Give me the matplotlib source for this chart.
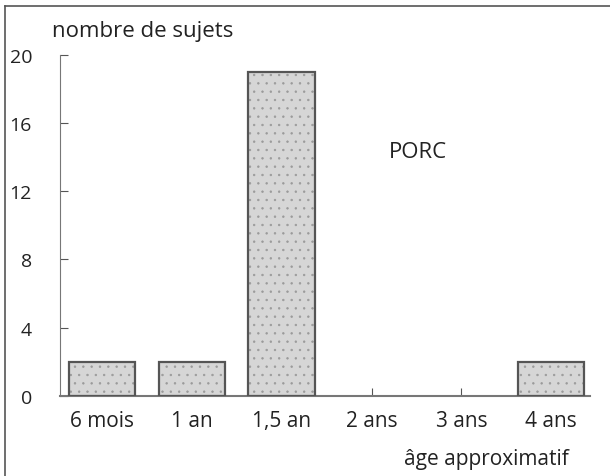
import matplotlib.pyplot as plt
from matplotlib.lines import Line2D

plt.rcParams['font.family'] = ['Open Sans', 'DejaVu Sans']
plt.rcParams['hatch.color'] = '#9a9a9a'
plt.rcParams['hatch.linewidth'] = 0.5

categories = ['6 mois', '1 an', '1,5 an', '2 ans', '3 ans', '4 ans']
counts = [2, 2, 19, 0, 0, 2]
yticks = [0, 4, 8, 12, 16, 20]

fig = plt.figure(figsize=(6.10, 4.77), dpi=100)
ax = fig.add_axes([0.098, 0.168, 0.869, 0.715])

x = list(range(len(categories)))
xs = [i for i, c in zip(x, counts) if c > 0]
hs = [c for c in counts if c > 0]
# fill + dotted hatch, then a dark outline on top
ax.bar(xs, hs, width=0.74, color='#d6d6d6', edgecolor='#9a9a9a',
       linewidth=0, hatch='..', zorder=2)
ax.bar(xs, hs, width=0.74, fill=False, edgecolor='#555555',
       linewidth=1.6, zorder=3)

ax.set_xlim(-0.47, 5.43)
ax.set_ylim(0, 20)
ax.set_xticks(x)
ax.set_xticklabels(categories)
ax.set_yticks(yticks)
ax.tick_params(axis='y', direction='in', length=6, pad=20, labelsize=14,
               colors='#555555', labelcolor='#222222')
ax.tick_params(axis='x', direction='in', length=6, pad=10, labelsize=15,
               colors='#555555', labelcolor='#222222')

for s in ['top', 'right']:
    ax.spines[s].set_visible(False)
ax.spines['left'].set_linestyle((0, (1, 1)))
ax.spines['left'].set_color('#777777')
ax.spines['bottom'].set_linestyle((0, (1, 1)))
ax.spines['bottom'].set_color('#777777')
ax.spines['bottom'].set_linewidth(1.5)

fig.text(0.085, 0.933, 'nombre de sujets', fontsize=16, color='#222222',
         va='center', ha='left')
ax.text(3.52, 14.35, 'PORC', fontsize=16, color='#222222', ha='center',
        va='center')
fig.text(0.798, 0.036, 'âge approximatif', fontsize=15, color='#222222',
         ha='center', va='center')

# outer frame (top and left only)
fig.add_artist(Line2D([0.008, 1.0], [0.985, 0.985], color='#555555', lw=1.2))
fig.add_artist(Line2D([0.008, 0.008], [0.0, 0.985], color='#555555', lw=1.2))

fig.savefig('out.png', dpi=100)
